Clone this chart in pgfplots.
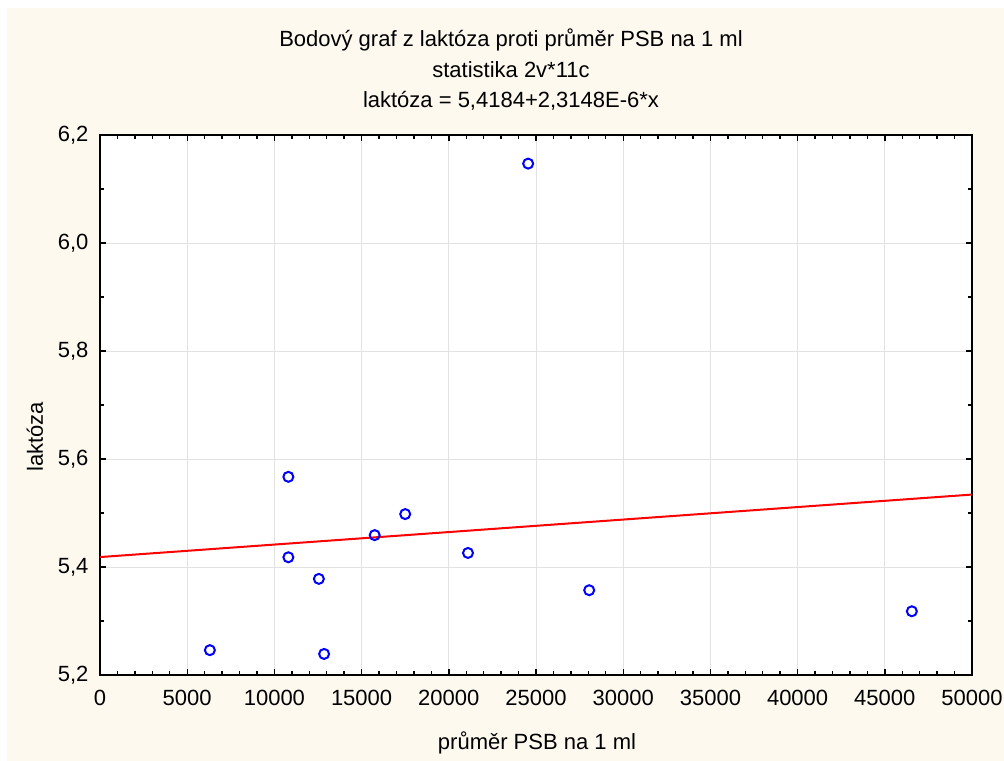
\documentclass[border=0pt]{standalone}
\usepackage{pgfplots}
\pgfplotsset{compat=1.18}
\usepackage{fontspec}
\setmainfont{Liberation Sans}
\definecolor{cream}{HTML}{FDF9EF}
\definecolor{gridgray}{HTML}{E2E2E2}
\begin{document}
\fontsize{22bp}{26bp}\selectfont
\begin{tikzpicture}[x=1bp,y=1bp]
\fill[white] (-100,-86) rectangle (904,675);
\fill[cream] (-93,-86) rectangle (904,667);
\begin{axis}[
  at={(0,0)}, anchor=south west,
  scale only axis, width=872bp, height=540bp,
  xmin=0, xmax=50000, ymin=5.2, ymax=6.2,
  axis background/.style={fill=white},
  axis line style={line width=2bp, black},
  xtick={0,5000,...,50000},
  ytick={5.2,5.4,...,6.21},
  minor x tick num=4, minor y tick num=1,
  tick align=inside,
  major tick length=6bp, minor tick length=4bp,
  tick style={line width=1.4bp, black},
  grid=major,
  major grid style={gridgray, line width=0.7bp},
  /pgf/number format/assume math mode=true,
  xticklabel style={/pgf/number format/1000 sep={}, yshift=-8bp},
  yticklabel style={/pgf/number format/.cd, use comma, fixed, fixed zerofill, precision=1, /tikz/.cd, xshift=-4bp},
  scaled x ticks=false,
  clip=false,
]
\addplot[red, line width=2bp, no marks] coordinates {(0,5.4184) (50000,5.53414)};
\addplot[only marks, mark=o, mark size=5bp, mark options={blue, line width=2bp}] coordinates {
(6300,5.246)
(10800,5.567)
(10800,5.418)
(12550,5.378)
(12850,5.239)
(15750,5.459)
(17500,5.498)
(21100,5.426)
(24550,6.147)
(28050,5.357)
(46550,5.318)
};
\end{axis}
\node at (411,635) {Bodový graf z laktóza proti průměr PSB na 1 ml};
\node at (411,605) {statistika 2v*11c};
\node at (411,574) {laktóza = 5,4184+2,3148E-6*x};
\node[rotate=90] at (-65,238) {laktóza};
\node at (437,-68) {průměr PSB na 1 ml};
\pgfresetboundingbox
\useasboundingbox (-100,-86) rectangle (904,675);
\end{tikzpicture}
\end{document}
